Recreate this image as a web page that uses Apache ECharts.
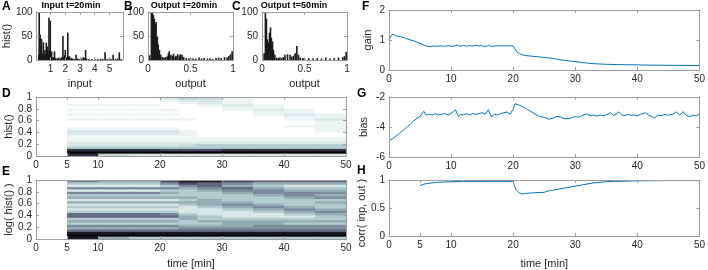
<!DOCTYPE html>
<html>
<head>
<meta charset="utf-8">
<script src="https://cdn.jsdelivr.net/npm/echarts@6/dist/echarts.min.js"></script>
<style>
  html, body { margin: 0; padding: 0; background: #fff; }
  #chart { width: 708px; height: 270px; }
</style>
</head>
<body>
<div id="chart"></div>
<script>
// histograms A-C : [value, count]
const histInput20 = [[0.2,12],[0.23,100],[0.26,30],[0.29,53],[0.33,20],[0.38,44],[0.42,15],[0.46,10],[0.51,37],[0.55,12],
  [0.59,8],[0.62,21],[0.67,10],[0.71,36],[0.75,14],[0.78,28],[0.82,8],[0.86,14],[0.89,88],[0.93,20],[0.98,82],[1.02,10],
  [1.07,18],[1.12,5],[1.17,6],[1.22,4],[1.27,18],[1.35,4],[1.45,3],[1.55,5],[1.65,3],[1.75,6],[1.84,50],[1.9,5],[1.95,10],
  [2.0,21],[2.05,6],[2.1,4],[2.17,57],[2.23,8],[2.29,7],[2.4,4],[2.5,3],[2.6,2],[2.73,11],[2.85,3],[3.0,2],[3.1,3],[3.22,6],
  [3.3,4],[3.38,21],[3.45,3],[3.6,2],[3.8,2],[4.0,3],[4.2,2],[4.4,3],[4.55,2],[4.7,16],[4.85,2],[5.0,3],[5.1,2],[5.25,11],
  [5.4,2],[5.55,3],[5.67,16],[5.8,2]];
const histOutput20 = [[0.02,10],[0.04,100],[0.05,100],[0.063,94],[0.075,86],[0.087,75],[0.095,79],[0.1,43],[0.11,49],[0.12,32],
  [0.135,21],[0.15,11],[0.17,6],[0.19,5],[0.21,6],[0.23,8],[0.24,14],[0.25,18],[0.27,11],[0.29,8],[0.3,13],[0.32,7],[0.33,9],
  [0.35,12],[0.37,8],[0.38,12],[0.4,11],[0.42,6],[0.45,4],[0.48,3],[0.5,4],[0.53,3],[0.56,3],[0.6,5],[0.63,3],[0.66,4],[0.7,3],
  [0.73,3],[0.76,2],[0.8,4],[0.83,5],[0.86,4],[0.9,6],[0.93,5],[0.95,8],[0.97,12],[0.99,18],[1.0,8]];
const histOutput50 = [[0.025,14],[0.04,100],[0.052,86],[0.064,43],[0.076,37],[0.088,57],[0.1,68],[0.11,46],[0.124,39],[0.135,21],
  [0.15,11],[0.17,5],[0.19,4],[0.21,5],[0.23,4],[0.25,6],[0.27,11],[0.3,12],[0.33,11],[0.35,7],[0.37,9],[0.39,14],[0.41,29],
  [0.43,11],[0.45,5],[0.48,4],[0.5,3],[0.55,4],[0.6,3],[0.65,4],[0.7,3],[0.75,5],[0.8,3],[0.85,4],[0.9,5],[0.95,6],[0.97,8],[0.99,17]];

// time courses F-H : [time (min), value]
const gain = [[0,1.0],[0.3,1.12],[0.6,1.2],[1,1.15],[1.5,1.12],[2,1.1],[2.5,1.07],[3,1.03],[3.5,1.0],[4,0.97],[4.5,0.93],[5,0.89],
  [5.5,0.84],[6,0.8],[6.5,0.78],[7,0.8],[7.5,0.79],[8,0.8],[8.5,0.8],[9,0.79],[9.5,0.81],[10,0.79],[10.5,0.8],[11,0.83],[11.5,0.79],
  [12,0.82],[12.5,0.79],[13,0.81],[13.5,0.8],[14,0.82],[14.5,0.8],[15,0.81],[15.5,0.77],[16,0.82],[16.5,0.79],[17,0.8],[17.5,0.81],
  [18,0.8],[18.5,0.81],[19,0.8],[19.5,0.81],[20,0.8],[20.3,0.7],[20.6,0.6],[21,0.55],[21.5,0.5],[22,0.48],[23,0.46],[24,0.44],
  [25,0.42],[26,0.4],[27,0.36],[28,0.33],[29,0.3],[30,0.28],[31,0.25],[32,0.23],[33,0.21],[35,0.19],[37,0.18],[40,0.17],
  [43,0.16],[46,0.155],[50,0.15]];
const bias = [[0,-4.9],[0.5,-4.8],[1,-4.65],[1.5,-4.5],[2,-4.3],[2.5,-4.15],[3,-3.95],[3.5,-3.8],[4,-3.6],[4.5,-3.42],[5,-3.3],
  [5.6,-2.95],[6,-3.2],[6.5,-3.15],[7,-3.2],[7.5,-3.1],[8,-3.2],[8.5,-3.15],[9,-3.1],[9.5,-3.2],[10,-3.1],[10.7,-2.85],[11.2,-3.3],
  [11.5,-3.15],[12,-3.2],[12.5,-3.1],[13,-3.2],[13.5,-3.1],[14,-3.15],[14.5,-3.1],[15,-3.05],[15.5,-3.15],[16,-2.85],[16.5,-3.3],
  [17,-3.15],[17.5,-3.2],[18,-3.1],[18.5,-3.05],[19,-3.0],[19.5,-3.15],[20,-2.8],[20.3,-2.45],[21,-2.55],[21.5,-2.65],[22,-2.75],
  [22.6,-2.9],[23.2,-3.05],[24.2,-3.3],[25,-3.35],[25.8,-3.48],[26.5,-3.4],[27,-3.3],[27.6,-3.32],[28.2,-3.45],[29.2,-3.42],
  [30,-3.3],[30.5,-3.35],[31,-3.25],[31.8,-3.12],[32.5,-3.25],[33,-3.2],[33.5,-3.28],[34,-3.2],[34.5,-3.25],[35,-3.18],[35.7,-3.05],
  [36.2,-3.25],[37,-3.0],[37.5,-3.2],[38,-3.25],[38.5,-3.15],[39,-3.22],[39.5,-3.2],[40,-3.25],[40.5,-3.15],[41.3,-3.05],
  [41.8,-3.2],[42.3,-3.3],[42.8,-3.4],[43.3,-3.2],[43.8,-3.25],[44.5,-3.15],[45,-3.22],[45.7,-3.15],[46.3,-3.0],[46.8,-3.2],
  [47.4,-2.98],[47.9,-3.25],[48.5,-3.3],[49,-3.2],[49.5,-3.25],[50,-3.15]];
const corr = [[5,0.9],[5.5,0.92],[6,0.935],[7,0.95],[8,0.96],[9,0.965],[10,0.97],[12,0.975],[14,0.975],[16,0.975],[18,0.975],
  [20,0.975],[20.2,0.9],[20.5,0.82],[21,0.77],[21.5,0.75],[22,0.76],[23,0.77],[24,0.775],[25,0.78],[25.5,0.8],[26,0.81],
  [27,0.83],[28,0.85],[29,0.87],[30,0.89],[31,0.91],[32,0.93],[33,0.95],[34,0.96],[35,0.97],[36,0.975],[38,0.98],[40,0.985],
  [45,0.99],[50,0.99]];

// heat maps D-E : intensity 0 (white) .. 9 (black), rows top (y=1) to bottom (y=0), one column per time span
const timeEdges = [5, 10, 15, 20, 23, 26, 30, 35, 40, 45, 50];
const binSize = 0.04;
const histLin = [
  [0,0,0,1,2,1.5,0.5,0,0,0],
  [0,0,0,0.5,1,1,0.5,0,0,0],
  [0,0,0,0,0.5,1,0.5,0,0,0],
  [0.5,0.5,0.5,0,0,0.5,1,0.5,0,0],
  [0,0,0,0,0,0,0.5,0.5,0,0],
  [0.5,0.5,0.5,0.5,0,0,0.5,1,0.5,0],
  [0,0,0,0,0,0,0,0.5,0.5,0],
  [0.5,0.5,0.5,0.5,0,0,0,0.5,1,0.5],
  [0,0,0,0,0,0,0,0,0.5,0.5],
  [0.5,0.5,0.5,0.5,0.5,0,0,0,0.5,1],
  [0,0,0,0,0,0,0,0,0,0.5],
  [0,0,0,0,0,0,0,0,0,0.5],
  [0,0,0,0,0,0,0,0,0.5,0.5],
  [0.5,0.5,0.5,0.5,0,0,0,0,0,0.5],
  [1,1,1,1,0.5,0,0,0,0,0.5],
  [1,1,1,1,0.5,0,0,0,0,0],
  [0.5,0.5,0.5,0.5,0.5,0,0,0,0,0],
  [0.5,0.5,0.5,0.5,0.5,0.5,0.5,0.5,0.5,0.5],
  [0.5,0.5,0.5,0.5,0.5,0.5,0.5,0.5,0.5,0.5],
  [1,1,1,1,1,1,1,1,1,1],
  [1,1,1,1,1.5,2,2,2,2,2],
  [2,2,2,2,2,2,2,2,2,2],
  [7,7,7,6,6,6,7,7,7,7],
  [9,9,9,9,9,9,9,9,9,9],
  [7,1.5,1,1,1,1,1,1,1,1]
];
const histLog = [
  [4,3,3,6,8,8,6,5,5,5],
  [2,2,2,4,6,5,4,3,3,3],
  [1,1,1,2,4,5,3,2,1,1],
  [4,4,4,4,3,4,5,3,2,2],
  [1,1,1,2,2,3,4,4,3,3],
  [4,4,4,3,2,2,3,4,4,4],
  [2,2,2,2,2,2,2,3,4,3],
  [3,3,3,3,3,2,2,2,3,4],
  [1,1,1,1,2,3,2,2,2,2],
  [3,3,3,3,3,3,3,2,2,3],
  [1,1,1,1,2,3,4,3,2,2],
  [2,2,2,2,1,2,3,4,3,2],
  [1,1,1,1,1,1,2,3,4,3],
  [2,2,2,2,1,1,1,2,3,4],
  [5,5,5,4,2,1,1,1,2,3],
  [5,5,5,5,3,2,1,1,1,2],
  [2,2,2,2,3,2,2,2,2,2],
  [3,3,3,3,2,3,3,3,3,3],
  [2,2,2,2,2,2,3,3,2,2],
  [4,4,4,4,3,3,3,4,4,4],
  [3,3,3,3,4,4,4,4,4,4],
  [5,5,5,5,5,5,5,5,5,5],
  [8,8,8,8,8,8,8,8,8,8],
  [9,9,9,9,9,9,9,9,9,9],
  [8,3,2,2,2,2,2,2,2,2]
];
const timeTicks = [0, 5, 10, 20, 30, 40, 50];
const inputTicks = [1, 2, 3, 4, 5];

const textColor = '#262626';
const lineColor = '#9c9c9c';
const font = 'Liberation Sans';

// matlab "bone", x in 0..1
function bone(x) {
  const c = v => Math.max(0, Math.min(1, v));
  const r = (7 * x + c((x - 0.75) / 0.25)) / 8;
  const g = (7 * x + c((x - 0.375) / 0.375)) / 8;
  const b = (7 * x + c(x / 0.375)) / 8;
  return 'rgb(' + [r, g, b].map(v => Math.round(v * 255)).join(',') + ')';
}

function cells(rows) {
  const out = [];
  const n = rows.length;
  rows.forEach((row, k) => {
    const i = n - 1 - k;
    row.forEach((v, j) => {
      out.push([timeEdges[j], timeEdges[j + 1], i * binSize, (i + 1) * binSize, v]);
    });
  });
  return out;
}

function renderCell(params, api) {
  const p0 = api.coord([api.value(0), api.value(3)]);
  const p1 = api.coord([api.value(1), api.value(2)]);
  return {
    type: 'rect',
    shape: {x: p0[0], y: p0[1], width: p1[0] - p0[0] + 0.6, height: p1[1] - p0[1] + 0.6},
    style: {fill: bone(1 - api.value(4) / 9)},
    silent: true
  };
}

const grids = [
  {left: 35, top: 12, width: 88, height: 48},   // A
  {left: 148, top: 12, width: 85, height: 48},  // B
  {left: 262, top: 12, width: 85, height: 48},  // C
  {left: 36, top: 97, width: 310, height: 59},  // D
  {left: 36, top: 180, width: 310, height: 60}, // E
  {left: 389, top: 10, width: 312, height: 60}, // F
  {left: 389, top: 97, width: 312, height: 60}, // G
  {left: 389, top: 180, width: 312, height: 60} // H
];

const xAxes = [];
const yAxes = [];
function axes(list, dim, gi, o) {
  const tick = {show: true, inside: true, length: 3, lineStyle: {color: lineColor}};
  if (o.ticks) tick.customValues = o.ticks;
  const base = {
    type: 'value', gridIndex: gi, min: o.min, max: o.max, interval: o.interval, z: 10,
    axisLine: {show: true, onZero: false, lineStyle: {color: lineColor, width: 1}},
    axisTick: tick,
    splitLine: {show: false}
  };
  const label = {color: textColor, fontSize: 10, fontFamily: font, margin: 4};
  if (o.ticks) label.customValues = o.ticks;
  list.push(Object.assign({}, base, {
    position: dim === 'x' ? 'bottom' : 'left',
    axisLabel: label,
    name: o.name || '', nameLocation: 'middle', nameGap: o.gap || 20,
    nameTextStyle: {color: textColor, fontSize: 11, fontFamily: font}
  }));
  list.push(Object.assign({}, base, {position: dim === 'x' ? 'top' : 'right', axisLabel: {show: false}}));
}

axes(xAxes, 'x', 0, {min: 0.05, max: 5.92, ticks: inputTicks, name: 'input', gap: 18});
axes(yAxes, 'y', 0, {min: 0, max: 100, interval: 50, name: 'hist()', gap: 22});
axes(xAxes, 'x', 1, {min: 0, max: 1, interval: 0.5, name: 'output', gap: 18});
axes(yAxes, 'y', 1, {min: 0, max: 100, interval: 50});
axes(xAxes, 'x', 2, {min: 0, max: 1, interval: 0.5, name: 'output', gap: 18});
axes(yAxes, 'y', 2, {min: 0, max: 100, interval: 50});
axes(xAxes, 'x', 3, {min: 0, max: 50, ticks: timeTicks});
axes(yAxes, 'y', 3, {min: 0, max: 1, interval: 0.2, name: 'hist()', gap: 22});
axes(xAxes, 'x', 4, {min: 0, max: 50, ticks: timeTicks, name: 'time [min]', gap: 19});
axes(yAxes, 'y', 4, {min: 0, max: 1, interval: 0.2, name: 'log( hist() )', gap: 22});
axes(xAxes, 'x', 5, {min: 0, max: 50, interval: 10});
axes(yAxes, 'y', 5, {min: 0, max: 2, interval: 1, name: 'gain', gap: 16});
axes(xAxes, 'x', 6, {min: 0, max: 50, interval: 10});
axes(yAxes, 'y', 6, {min: -6, max: -2, interval: 2, name: 'bias', gap: 20});
axes(xAxes, 'x', 7, {min: 0, max: 50, ticks: timeTicks, name: 'time [min]', gap: 22});
axes(yAxes, 'y', 7, {min: 0, max: 1, interval: 0.5});

function bars(gi, data) {
  return {type: 'bar', xAxisIndex: 2 * gi, yAxisIndex: 2 * gi, data: data, barWidth: 1.6,
    itemStyle: {color: '#1a1a1a'}, silent: true};
}
function line(gi, data) {
  return {type: 'line', xAxisIndex: 2 * gi, yAxisIndex: 2 * gi, data: data, showSymbol: false,
    lineStyle: {color: '#0072BD', width: 1}, silent: true};
}
function heat(gi, rows) {
  return {type: 'custom', xAxisIndex: 2 * gi, yAxisIndex: 2 * gi, data: cells(rows), clip: true,
    encode: {x: [0, 1], y: [2, 3]}, renderItem: renderCell};
}

function txt(x, y, s, size, bold, align) {
  return {type: 'text', x: x, y: y, z: 100,
    style: {text: s, fill: '#000', align: align || 'left', verticalAlign: 'top',
      font: (bold ? 'bold ' : '') + size + 'px ' + font}};
}

const chart = echarts.init(document.getElementById('chart'), null, {renderer: 'canvas'});
chart.setOption({
  animation: false,
  grid: grids.map(g => Object.assign({containLabel: false}, g)),
  xAxis: xAxes,
  yAxis: yAxes,
  series: [
    bars(0, histInput20),
    bars(1, histOutput20),
    bars(2, histOutput50),
    heat(3, histLin),
    heat(4, histLog),
    line(5, gain),
    line(6, bias),
    line(7, corr)
  ],
  graphic: [
    txt(2, 1, 'A', 12, true), txt(124, 1, 'B', 12, true), txt(232, 1, 'C', 12, true),
    txt(2, 88, 'D', 12, true), txt(2, 166, 'E', 12, true),
    txt(362, 1, 'F', 12, true), txt(357, 88, 'G', 12, true), txt(357, 165, 'H', 12, true),
    txt(71, 1, 'Input t=20min', 9, true, 'center'),
    txt(184, 1, 'Output t=20min', 9, true, 'center'),
    txt(294, 1, 'Output t=50min', 9, true, 'center'),
    {type: 'text', x: 362, y: 213, rotation: Math.PI / 2, z: 100,
      style: {text: 'corr( inp, out )', fill: textColor, align: 'center', verticalAlign: 'middle',
        font: '11px ' + font}}
  ]
});
</script>
</body>
</html>
